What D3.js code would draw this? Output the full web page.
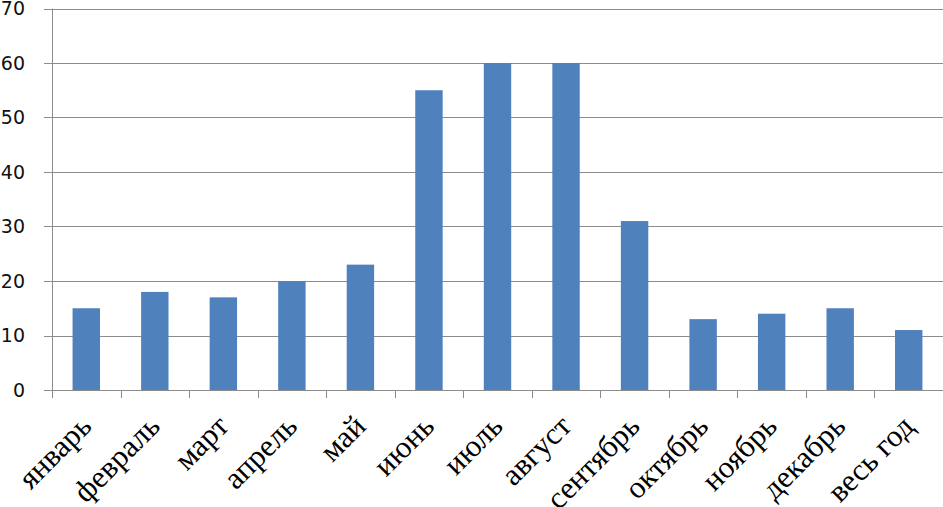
<!DOCTYPE html>
<html>
<head>
<meta charset="utf-8">
<script src="https://cdn.jsdelivr.net/npm/d3@7"></script>
<style>
  body { margin: 0; background: #fff; }
  svg { display: block; }
</style>
</head>
<body>
<div id="chart"></div>
<script>
const months = ["январь", "февраль", "март", "апрель", "май", "июнь", "июль",
    "август", "сентябрь", "октябрь", "ноябрь", "декабрь", "весь год"];
const values = [15, 18, 17, 20, 23, 55, 60, 60, 31, 13, 14, 15, 11];
const yTicks = [0, 10, 20, 30, 40, 50, 60, 70];

const width = 943, height = 507;
const margin = { top: 8.5, right: 0, bottom: 117, left: 52 };

const svg = d3.select("#chart").append("svg")
    .attr("width", width)
    .attr("height", height);

const x = d3.scaleBand()
    .domain(months)
    .range([margin.left, width - margin.right])
    .paddingInner(0.6)
    .paddingOuter(0.3);

const y = d3.scaleLinear()
    .domain([0, 70])
    .range([height - margin.bottom, margin.top]);

// сетка
svg.append("g")
    .selectAll("line")
    .data(yTicks)
    .join("line")
    .attr("x1", margin.left - 8)
    .attr("x2", width)
    .attr("y1", d => Math.round(y(d)) + 0.5)
    .attr("y2", d => Math.round(y(d)) + 0.5)
    .attr("stroke", "#8c8c8c")
    .attr("stroke-width", 1);

// подписи оси Y
svg.append("g")
    .selectAll("text")
    .data(yTicks)
    .join("text")
    .attr("x", 25)
    .attr("y", d => y(d))
    .attr("dy", "0.35em")
    .attr("text-anchor", "end")
    .attr("font-family", "DejaVu Sans")
    .attr("font-size", "19px")
    .attr("fill", "#111")
    .text(d => d);

// столбцы
svg.append("g")
    .selectAll("rect")
    .data(values)
    .join("rect")
    .attr("x", (d, i) => x(months[i]))
    .attr("y", d => y(d))
    .attr("width", x.bandwidth())
    .attr("height", d => y(0) - y(d))
    .attr("fill", "#4f81bd");

// ось Y
svg.append("line")
    .attr("x1", margin.left + 0.5).attr("x2", margin.left + 0.5)
    .attr("y1", y(70)).attr("y2", y(0))
    .attr("stroke", "#8c8c8c");

// деления оси X
const step = x.step();
const tickXs = d3.range(months.length + 1).map(i => margin.left + i * step);
svg.append("g")
    .selectAll("line")
    .data(tickXs)
    .join("line")
    .attr("x1", d => Math.round(d) + 0.5)
    .attr("x2", d => Math.round(d) + 0.5)
    .attr("y1", y(0))
    .attr("y2", y(0) + 8)
    .attr("stroke", "#8c8c8c");

// подписи оси X
svg.append("g")
    .selectAll("text")
    .data(months)
    .join("text")
    .attr("text-anchor", "end")
    .attr("transform", d => `translate(${x(d) + x.bandwidth() / 2 + 7},${y(0) + 38}) rotate(-45)`)
    .attr("font-family", "Liberation Serif")
    .attr("font-size", "31px")
    .attr("fill", "#000")
    .text(d => d);
</script>
</body>
</html>
